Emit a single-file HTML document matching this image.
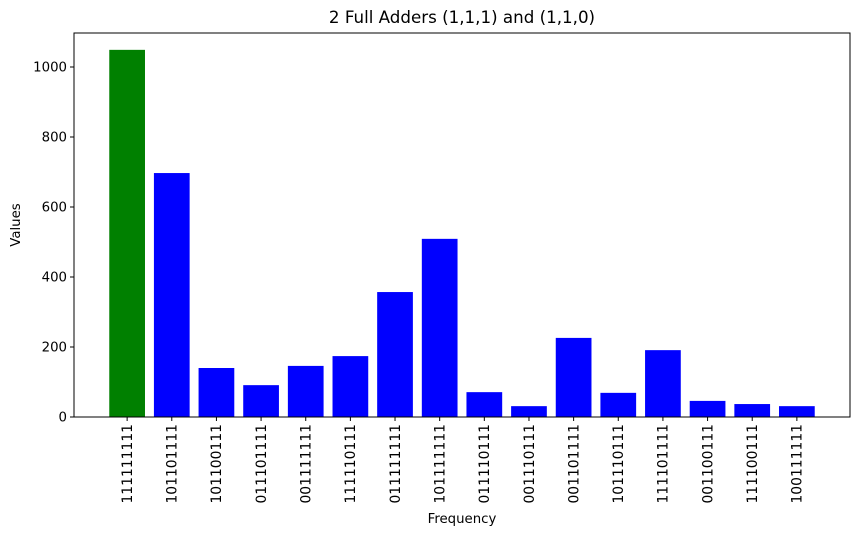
<!DOCTYPE html>
<html><head><meta charset="utf-8"><style>
body{margin:0;background:#fff;}
svg text{font-family:"DejaVu Sans","Liberation Sans",sans-serif;}
</style></head><body>
<svg id="chart" width="859" height="536" viewBox="0 0 859 536" xmlns="http://www.w3.org/2000/svg">
<rect width="859" height="536" fill="#fff"/>
<g id="bars"></g>
<g id="axes"></g>
<text x="462" y="23" font-size="16.7" text-anchor="middle">2 Full Adders (1,1,1) and (1,1,0)</text>
<text x="462" y="523" font-size="13.3" text-anchor="middle">Frequency</text>
<text transform="translate(20,225) rotate(-90)" font-size="13.3" text-anchor="middle">Values</text>
</svg>
<script>
const categories = ["111111111","101101111","101100111","011101111","001111111","111110111","011111111","101111111","011110111","001110111","001101111","101110111","111101111","001100111","111100111","100111111"];
const values = [1049,697,140,91,146,174,357,509,71,31,226,69,191,46,37,31];
const colors = ["green","blue","blue","blue","blue","blue","blue","blue","blue","blue","blue","blue","blue","blue","blue","blue"];
const yTicks = [0,200,400,600,800,1000];

const L=74,R=850,T=33,B=417;
const n=categories.length;
const xmin=-0.4-0.05*(n-1+0.8), xmax=n-1+0.4+0.05*(n-1+0.8);
const x=i=>L+(i-xmin)/(xmax-xmin)*(R-L);
const y=v=>B-v*0.35;
const bw=0.8*(R-L)/(xmax-xmin);
const NS="http://www.w3.org/2000/svg";
const bars=document.getElementById('bars'), axes=document.getElementById('axes');
function mk(tag,attrs,parent){const e=document.createElementNS(NS,tag);for(const k in attrs)e.setAttribute(k,attrs[k]);parent.appendChild(e);return e;}
values.forEach((v,i)=>{
  const r=mk('rect',{x:x(i)-bw/2,y:y(v),width:bw,height:B-y(v),fill:colors[i]},bars);
  
  
  const t=mk('line',{x1:x(i),x2:x(i),y1:B,y2:B+4,stroke:'#000','stroke-width':1},axes);
  
  
  const lb=mk('text',{transform:`translate(${x(i)+4.8},${B+7}) rotate(-90)`,'font-size':13.9,'text-anchor':'end'},axes);
  lb.textContent=categories[i];
  
  
});
yTicks.forEach(v=>{
  const t=mk('line',{x1:L-4,x2:L,y1:y(v),y2:y(v),stroke:'#000','stroke-width':1},axes);
  
  
  const lb=mk('text',{x:L-7,y:y(v)+4.5,'font-size':13.3,'text-anchor':'end'},axes);
  lb.textContent=v;
  
  
});
const f=mk('rect',{x:L,y:T,width:R-L,height:B-T,fill:'none',stroke:'#000','stroke-width':1},axes);


</script>
</body></html>
